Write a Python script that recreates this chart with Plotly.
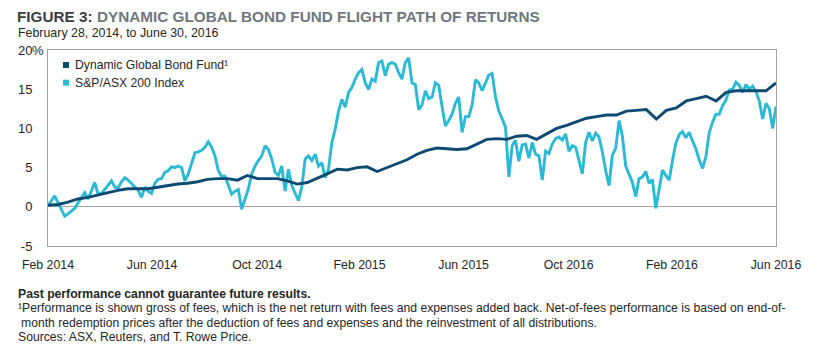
import pandas as pd
import plotly.graph_objects as go

START = "2014-02-28"
END = "2016-06-30"

# S&P/ASX 200 Index cumulative return (%), evenly spaced in time
index_values = [
    0.1, 0.8, 1.4, 0.5, -0.4, -1.2, -0.9, -0.5, -0.2, 0.5,
    1.1, 1.8, 1.0, 2.0, 3.1, 1.6, 1.7, 2.2, 2.8, 3.3,
    2.5, 2.4, 3.2, 3.7, 3.4, 3.0, 2.6, 2.1, 1.2, 2.5,
    2.0, 1.7, 3.0, 3.5, 3.6, 4.4, 4.6, 5.1, 5.0, 5.2,
    5.0, 3.3, 4.2, 5.5, 6.9, 7.0, 7.2, 7.6, 8.3, 7.6,
    6.5, 4.6, 3.9, 3.9, 2.6, 1.6, 2.0, 2.2, -0.3, 1.0,
    2.3, 4.2, 5.2, 5.9, 6.5, 7.8, 7.3, 6.1, 4.4, 4.0,
    5.2, 2.0, 4.8, 2.7, 1.8, 0.8, 2.5, 6.1, 6.5, 5.9,
    6.7, 5.2, 5.6, 3.7, 4.8, 8.2, 9.9, 12.2, 13.7, 12.7,
    14.6, 15.2, 16.3, 17.1, 17.5, 15.8, 15.0, 16.3, 16.0, 18.4,
    18.6, 16.7, 18.2, 18.4, 18.2, 17.1, 16.3, 18.4, 19.0, 15.8,
    15.6, 12.4, 13.0, 14.8, 13.8, 14.0, 15.8, 15.5, 12.8, 10.3,
    11.0, 11.8, 13.2, 14.0, 9.5, 11.5, 11.5, 13.0, 16.2, 15.8,
    14.8, 15.8, 16.8, 17.0, 14.0, 12.2, 11.3, 10.2, 3.8, 7.8,
    8.5, 5.8, 7.9, 8.0, 6.2, 8.2, 6.7, 6.5, 3.4, 7.1,
    6.8, 8.0, 8.7, 8.9, 8.5, 9.3, 7.1, 7.8, 7.6, 6.0,
    4.2, 8.2, 9.5, 8.4, 9.4, 8.9, 7.0, 4.6, 2.7, 6.6,
    7.5, 11.0, 9.0, 5.2, 4.2, 3.1, 1.3, 3.6, 3.8, 4.5,
    3.0, 3.5, -0.2, 2.3, 4.7, 4.0, 3.4, 5.9, 8.1, 9.2,
    9.6, 8.8, 9.5, 8.4, 7.4, 6.0, 4.9, 6.4, 9.4, 10.8,
    11.8, 11.8, 12.9, 13.6, 14.9, 15.0, 15.9, 15.5, 14.6, 15.6,
    15.0, 15.4, 14.7, 13.5, 11.2, 13.2, 12.5, 10.0, 12.8,
]

# Dynamic Global Bond Fund cumulative return (%), evenly spaced in time
fund_values = [
    0.2, 0.3, 0.6, 1.0, 1.2, 1.5, 1.8, 2.1, 2.3, 2.3,
    2.3, 2.5, 2.7, 2.9, 3.0, 3.2, 3.5, 3.6, 3.6, 3.4,
    4.0, 3.6, 3.6, 3.6, 3.3, 2.9, 3.1, 3.6, 4.2, 4.8,
    4.7, 5.0, 5.1, 4.5, 5.0, 5.5, 6.0, 6.7, 7.2, 7.5,
    7.4, 7.3, 7.4, 8.0, 8.6, 8.7, 8.6, 9.0, 9.1, 8.6,
    9.3, 10.0, 10.4, 10.9, 11.3, 11.5, 11.7, 11.7, 12.2, 12.3,
    12.4, 11.2, 12.3, 12.6, 13.5, 13.8, 14.1, 13.5, 14.6, 14.8,
    14.8, 14.8, 14.8, 15.8,
]

series_names = ["Dynamic Global Bond Fund\u00b9", "S&P/ASX 200 Index"]
series_colors = ["#0d4a72", "#2bbad6"]

tick_dates = ["2014-02-28", "2014-06-30", "2014-10-31", "2015-02-28",
              "2015-06-30", "2015-10-31", "2016-02-29", "2016-06-30"]
tick_labels = ["Feb 2014", "Jun 2014", "Oct 2014", "Feb 2015",
               "Jun 2015", "Oct 2016", "Feb 2016", "Jun 2016"]
y_ticks = [-5, 0, 5, 10, 15, 20]
y_labels = ["-5", "0", "5", "10", "15", "20"]

index_dates = pd.date_range(START, END, periods=len(index_values))
fund_dates = pd.date_range(START, END, periods=len(fund_values))

FONT = "Liberation Sans, Arial, sans-serif"
TXT = "#262626"
GRID = "#a3a3a3"

W, H = 828, 357
ML, MR, MT, MB = 48, 52, 50, 111
PW, PH = W - ML - MR, H - MT - MB


def px(x):
    return (x - ML) / PW


def py(y):
    return (H - MB - y) / PH


fig = go.Figure()
fig.add_trace(go.Scatter(x=index_dates, y=index_values, mode="lines",
                         name=series_names[1], showlegend=False,
                         line=dict(color=series_colors[1], width=2.9)))
fig.add_trace(go.Scatter(x=fund_dates, y=fund_values, mode="lines",
                         name=series_names[0], showlegend=False,
                         line=dict(color=series_colors[0], width=2.9)))

shapes = []
annotations = []

# legend
for i, (name, col) in enumerate(zip(series_names, series_colors)):
    cy = 65 + i * 17.7
    shapes.append(dict(type="rect", xref="paper", yref="paper",
                       x0=px(63), x1=px(69), y0=py(cy + 3), y1=py(cy - 3),
                       fillcolor=col, line=dict(width=0)))
    annotations.append(dict(text=name, xref="paper", yref="paper",
                            x=px(73), y=py(cy), xanchor="left", yanchor="middle",
                            showarrow=False, font=dict(family=FONT, size=12.2, color=TXT)))

# percent sign on top tick
annotations.append(dict(text="%", xref="paper", yref="y", x=px(30), y=20,
                        xanchor="left", yanchor="middle", showarrow=False,
                        font=dict(family=FONT, size=13, color=TXT)))

# subtitle
annotations.append(dict(text="February 28, 2014, to June 30, 2016", xref="paper", yref="paper",
                        x=px(16), y=py(33), xanchor="left", yanchor="middle", showarrow=False,
                        font=dict(family=FONT, size=12.4, color=TXT)))

# footnotes
foot = [
    ("<b>Past performance cannot guarantee future results.</b>", 16, 293.5),
    ("\u00b9Performance is shown gross of fees, which is the net return with fees and expenses added back. "
     "Net-of-fees performance is based on end-of-", 16, 308),
    ("month redemption prices after the deduction of fees and expenses and the reinvestment of all distributions.",
     19, 322.5),
    ("Sources: ASX, Reuters, and T. Rowe Price.", 16, 337),
]
for text, x0, cy in foot:
    annotations.append(dict(text=text, xref="paper", yref="paper", x=px(x0), y=py(cy),
                            xanchor="left", yanchor="middle", showarrow=False,
                            font=dict(family=FONT, size=12.2, color=TXT)))

fig.update_layout(
    width=W, height=H,
    margin=dict(l=ML, r=MR, t=MT, b=MB),
    paper_bgcolor="white", plot_bgcolor="white",
    font=dict(family=FONT, color=TXT),
    title=dict(
        text="<b>FIGURE 3: </b><b><span style='color:#6f777e'>DYNAMIC GLOBAL BOND FUND FLIGHT PATH OF RETURNS</span></b>",
        xref="container", yref="container", x=17 / W, y=1 - 17 / H,
        xanchor="left", yanchor="middle",
        font=dict(family=FONT, size=15.3, color="#3b4046")),
    xaxis=dict(type="date", range=[START, END], tickvals=tick_dates, ticktext=tick_labels,
               showgrid=False, zeroline=False, ticks="", showline=True, mirror=True,
               linecolor=GRID, linewidth=1, ticklabelstandoff=7,
               tickfont=dict(family=FONT, size=12.3, color=TXT)),
    yaxis=dict(range=[-5, 20], tickvals=y_ticks, ticktext=y_labels,
               showgrid=False, zeroline=True, zerolinecolor=GRID, zerolinewidth=1,
               ticks="", showline=True, mirror=True, linecolor=GRID, linewidth=1,
               ticklabelstandoff=12, tickfont=dict(family=FONT, size=13, color=TXT)),
    shapes=shapes,
    annotations=annotations,
)

fig.write_html("out.html", config={"displayModeBar": False},
               post_script="document.body.style.margin='0';document.body.style.overflow='hidden';")
